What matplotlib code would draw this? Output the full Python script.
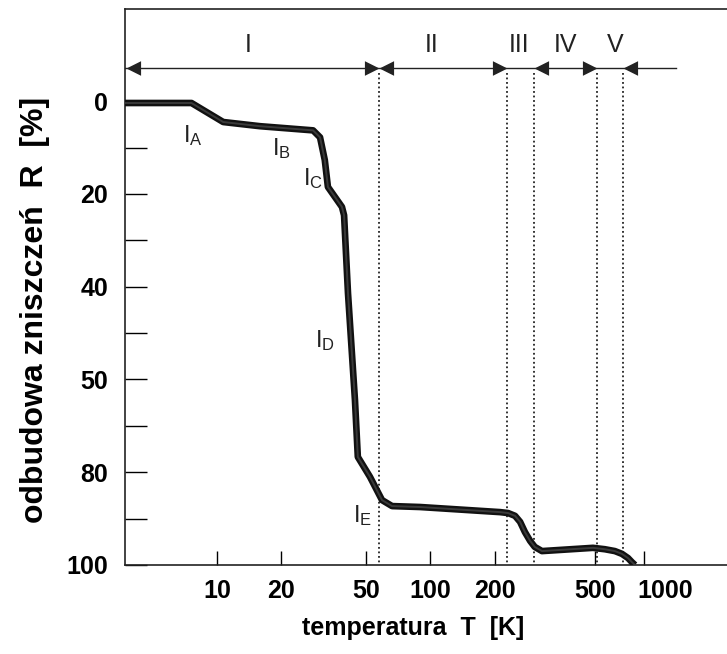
import matplotlib
matplotlib.use("Agg")
import matplotlib.pyplot as plt
from matplotlib.ticker import NullLocator, FixedLocator
from matplotlib.transforms import ScaledTranslation

plt.rcParams['font.family'] = ['Liberation Sans', 'DejaVu Sans']
plt.rcParams['mathtext.fontset'] = 'custom'
plt.rcParams['mathtext.rm'] = 'Liberation Sans'

# krzywa odbudowy zniszczen (T [K], R [%])
temp = [3.7, 7.6, 10.7, 15.9, 28.2, 30.4, 32.0, 33.1, 38.5, 39.4, 41.1, 44.3,
        45.7, 52.1, 59.3, 66.1, 89.4, 212, 231, 249, 263, 277, 293, 308, 333,
        577, 656, 731, 789, 842, 879, 908]
recovery = [0.4, 0.4, 4.5, 5.4, 6.3, 7.8, 12.7, 18.5, 22.8, 24.6, 41.4, 64.4,
            76.7, 81.0, 86.0, 87.3, 87.5, 88.6, 88.8, 89.4, 90.7, 92.9, 94.8, 96.1, 97.0,
            96.3, 96.6, 97.0, 97.6, 98.5, 99.4, 100]

# granice etapow
stage_bounds = [57.4, 228, 305, 602, 798]
stage_names = ['I', 'II', 'III', 'IV', 'V']
stage_label_T = [14.0, 101.6, 259, 427, 731]

# podetapy I
sub_names = ['A', 'B', 'C', 'D', 'E']
sub_T = [6.93, 18.1, 25.3, 28.8, 43.3]
sub_R = [8.8, 11.6, 18.1, 53.0, 90.7]

yticks = [0, 20, 40, 60, 80, 100]
ytick_labels = ['0', '20', '40', '50', '80', '100']
xticks = [10, 20, 50, 100, 200, 589, 1000]
xtick_labels = ['10', '20', '50', '100', '200', '500', '1000']

fig = plt.figure(figsize=(7.27, 6.54), dpi=100)
ax = fig.add_axes([125 / 727, 1 - 565 / 654, 615 / 727, (565 - 9.3) / 654])
ax.set_xscale('log')
ax.set_xlim(3.71, 2818)
ax.set_ylim(100, -19.8)

ax.plot(temp, recovery, color='#111111', lw=4.8, solid_capstyle='butt', zorder=5)
ax.plot(temp, recovery, color='#3a3a3a', lw=1.4, zorder=6)

# linia z strzalkami
arrow_y = -7.1
ax.plot([3.71, 1413], [arrow_y, arrow_y], color='#222222', lw=1.0, zorder=4)
left_head = [(0, 0), (1, 0.5), (1, -0.5), (0, 0)]
right_head = [(0, 0), (-1, 0.5), (-1, -0.5), (0, 0)]
left_tips = [3.75, stage_bounds[0], stage_bounds[2], stage_bounds[4]]
right_tips = [stage_bounds[0], stage_bounds[1], stage_bounds[3]]
for t in left_tips:
    ax.plot([t], [arrow_y], marker=left_head, ms=21, color='#222222',
            mew=0, zorder=6, clip_on=False)
for t in right_tips:
    ax.plot([t], [arrow_y], marker=right_head, ms=21, color='#222222',
            mew=0, zorder=6, clip_on=False)

for b in stage_bounds:
    ax.plot([b, b], [arrow_y + 1, 100], color='#222222', lw=1.3,
            linestyle=(0, (1, 1.5)), zorder=3)

for name, t in zip(stage_names, stage_label_T):
    ax.text(t, -12.1, name, fontsize=18, ha='center', va='center', color='#222222')

for name, t, r in zip(sub_names, sub_T, sub_R):
    ax.text(t, r, r'$\mathregular{I_{%s}}$' % name, fontsize=17, ha='left',
            va='baseline', color='#222222')

ax.xaxis.set_major_locator(FixedLocator(xticks))
ax.xaxis.set_minor_locator(NullLocator())
ax.set_xticklabels(xtick_labels)
ax.set_yticks(yticks)
ax.set_yticklabels(ytick_labels)
ax.set_yticks([10, 30, 50, 70, 90], minor=True)

ax.tick_params(axis='y', which='both', direction='in', length=16, width=1.0,
               pad=12, labelsize=18)
ax.tick_params(axis='x', which='major', direction='in', length=10, width=1.0,
               pad=10, labelsize=18)
for lbl in ax.get_xticklabels() + ax.get_yticklabels():
    lbl.set_fontweight('bold')

# etykieta 1000 przesunieta w prawo, jak w oryginale
last = ax.xaxis.get_major_ticks()[-1].label1
last.set_transform(last.get_transform() + ScaledTranslation(0.21, 0, fig.dpi_scale_trans))

for s in ['left', 'bottom', 'top']:
    ax.spines[s].set_linewidth(1.2)
    ax.spines[s].set_color('#222222')
ax.spines['right'].set_visible(False)

fig.text(413 / 727, 1 - 628 / 654, 'temperatura  T  [K]', fontsize=18,
         fontweight='bold', ha='center', va='center')
fig.text(35 / 727, 1 - 310 / 654, 'odbudowa zniszczeń  R  [%]', fontsize=23,
         fontweight='bold', ha='center', va='center', rotation=90)

fig.savefig('out.png', dpi=100)
